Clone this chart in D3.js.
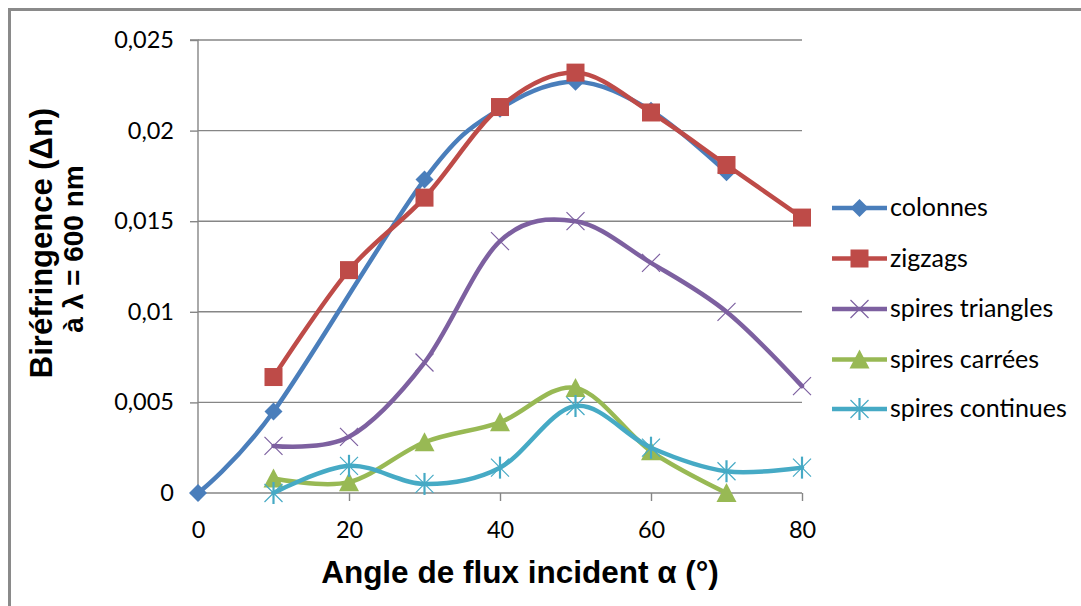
<!DOCTYPE html>
<html>
<head>
<meta charset="utf-8">
<script src="https://cdn.jsdelivr.net/npm/d3@7"></script>
<style>
  html, body { margin: 0; padding: 0; background: #fff; }
  svg { display: block; }
</style>
</head>
<body>
<svg id="chart" width="1081" height="606"></svg>
<script>
// ---- data ----
const angles = [0, 10, 20, 30, 40, 50, 60, 70, 80];
const colonnes  = [0, 0.0045, null, 0.0173, 0.0212, 0.0227, 0.0211, 0.0177, null];
const zigzags   = [null, 0.0064, 0.0123, 0.0163, 0.0213, 0.0232, 0.0210, 0.0181, 0.0152];
const spiresTriangles = [null, 0.0026, 0.0031, 0.0072, 0.0139, 0.0150, 0.0127, 0.0100, 0.0059];
const spiresCarrees   = [null, 0.0008, 0.0006, 0.0028, 0.0039, 0.0058, 0.0023, 0.0000, null];
const spiresContinues = [null, 0.0000, 0.0015, 0.0005, 0.0014, 0.0048, 0.0025, 0.0012, 0.0014];
const seriesNames = ["colonnes", "zigzags", "spires triangles", "spires carrées", "spires continues"];
const xTicks = [0, 20, 40, 60, 80];
const yTicks = [0, 0.005, 0.01, 0.015, 0.02, 0.025];
const yTickLabels = ["0", "0,005", "0,01", "0,015", "0,02", "0,025"];
const xTitle = "Angle de flux incident α (°)";
const yTitle1 = "Biréfringence (Δn)";
const yTitle2 = "à λ = 600 nm";

const seriesValues = [colonnes, zigzags, spiresTriangles, spiresCarrees, spiresContinues];
const colors = ["#4A7EBB", "#BE4B48", "#7D60A0", "#98B954", "#46AAC5"];
const markerTypes = ["diamond", "square", "x", "triangle", "star"];

const svg = d3.select("#chart");
const x = d3.scaleLinear().domain([0, 80]).range([198, 802]);
const y = d3.scaleLinear().domain([0, 0.025]).range([493, 40]);

// frame
svg.append("rect").attr("x", 9.5).attr("y", 9.5).attr("width", 1200).attr("height", 700)
  .attr("fill", "none").attr("stroke", "#8a8a8a").attr("stroke-width", 3);

// gridlines
svg.append("g").selectAll("line").data(yTicks.filter(d => d > 0)).join("line")
  .attr("x1", x(0)).attr("x2", x(80)).attr("y1", d => y(d)).attr("y2", d => y(d))
  .attr("stroke", "#868686").attr("stroke-width", 1.4);

// y axis
const yAxis = d3.axisLeft(y).tickValues(yTicks).tickSize(8).tickPadding(16)
  .tickFormat((d, i) => yTickLabels[i]);
const yg = svg.append("g").attr("transform", `translate(${x(0)},0)`).call(yAxis);
yg.select(".domain").attr("stroke", "#868686").attr("stroke-width", 1.4).attr("d", `M-8,${y(0.025)}H0V${y(0)}`);
yg.selectAll(".tick line").attr("stroke", "#868686").attr("stroke-width", 1.4);
yg.selectAll(".tick text").attr("font-family", "Lato").attr("font-size", 23.5).attr("fill", "#000");

// x axis
const xAxis = d3.axisBottom(x).tickValues(xTicks).tickSize(8).tickPadding(20).tickFormat(d3.format("d"));
const xg = svg.append("g").attr("transform", `translate(0,${y(0)})`).call(xAxis);
xg.select(".domain").attr("stroke", "#868686").attr("stroke-width", 1.4).attr("d", `M${x(0)},0H${x(80)}`);
xg.selectAll(".tick line").attr("stroke", "#868686").attr("stroke-width", 1.4);
xg.selectAll(".tick text").attr("font-family", "Lato").attr("font-size", 23.5).attr("fill", "#000");

// marker drawing
function drawMarker(g, type, color, cx, cy) {
  const s = 9;
  if (type === "diamond") {
    g.append("path").attr("d", `M${cx},${cy - s}L${cx + s},${cy}L${cx},${cy + s}L${cx - s},${cy}Z`).attr("fill", color);
  } else if (type === "square") {
    g.append("rect").attr("x", cx - 9).attr("y", cy - 9).attr("width", 18).attr("height", 18).attr("fill", color);
  } else if (type === "triangle") {
    g.append("path").attr("d", `M${cx},${cy - 10}L${cx + 10},${cy + 9}L${cx - 10},${cy + 9}Z`).attr("fill", color);
  } else if (type === "x") {
    const r = 9;
    g.append("path").attr("d", `M${cx - r},${cy - r}L${cx + r},${cy + r}M${cx - r},${cy + r}L${cx + r},${cy - r}`)
      .attr("stroke", color).attr("stroke-width", 1.2).attr("fill", "none");
  } else if (type === "star") {
    const r = 9;
    g.append("path").attr("d", `M${cx - r},${cy - r}L${cx + r},${cy + r}M${cx - r},${cy + r}L${cx + r},${cy - r}`)
      .attr("stroke", color).attr("stroke-width", 1.2).attr("fill", "none");
    g.append("path").attr("d", `M${cx},${cy - 11}L${cx},${cy + 11}`)
      .attr("stroke", color).attr("stroke-width", 2.2).attr("fill", "none");
  }
}

const line = d3.line().x(d => x(d[0])).y(d => y(d[1])).curve(d3.curveCatmullRom.alpha(0));

seriesValues.forEach((vals, i) => {
  const pts = angles.map((a, k) => [a, vals[k]]).filter(d => d[1] !== null);
  const g = svg.append("g");
  g.append("path").datum(pts).attr("d", line).attr("fill", "none")
    .attr("stroke", colors[i]).attr("stroke-width", 4.5).attr("stroke-linejoin", "round").attr("stroke-linecap", "round");
  pts.forEach(p => drawMarker(g, markerTypes[i], colors[i], x(p[0]), y(p[1])));
});

// legend
const legendY = [208, 258.5, 309, 359.5, 409];
seriesNames.forEach((name, i) => {
  const g = svg.append("g");
  const cy = legendY[i];
  g.append("line").attr("x1", 832).attr("x2", 887).attr("y1", cy).attr("y2", cy)
    .attr("stroke", colors[i]).attr("stroke-width", 4.5);
  drawMarker(g, markerTypes[i], colors[i], 859.5, cy);
  g.append("text").attr("x", 890).attr("y", cy + 8).text(name)
    .attr("font-family", "Lato").attr("font-size", 25).attr("fill", "#000");
});

// axis titles
svg.append("text").attr("x", 520).attr("y", 583).attr("text-anchor", "middle")
  .attr("font-family", "Liberation Sans").attr("font-weight", "bold").attr("font-size", 31.5)
  .attr("fill", "#000").text(xTitle);
svg.append("text").attr("transform", "translate(52,243) rotate(-90)").attr("text-anchor", "middle")
  .attr("font-family", "Liberation Sans").attr("font-weight", "bold").attr("font-size", 31)
  .attr("fill", "#000").text(yTitle1);
svg.append("text").attr("transform", "translate(83,249) rotate(-90)").attr("text-anchor", "middle")
  .attr("font-family", "Liberation Sans").attr("font-weight", "bold").attr("font-size", 28)
  .attr("fill", "#000").text(yTitle2);
</script>
</body>
</html>
